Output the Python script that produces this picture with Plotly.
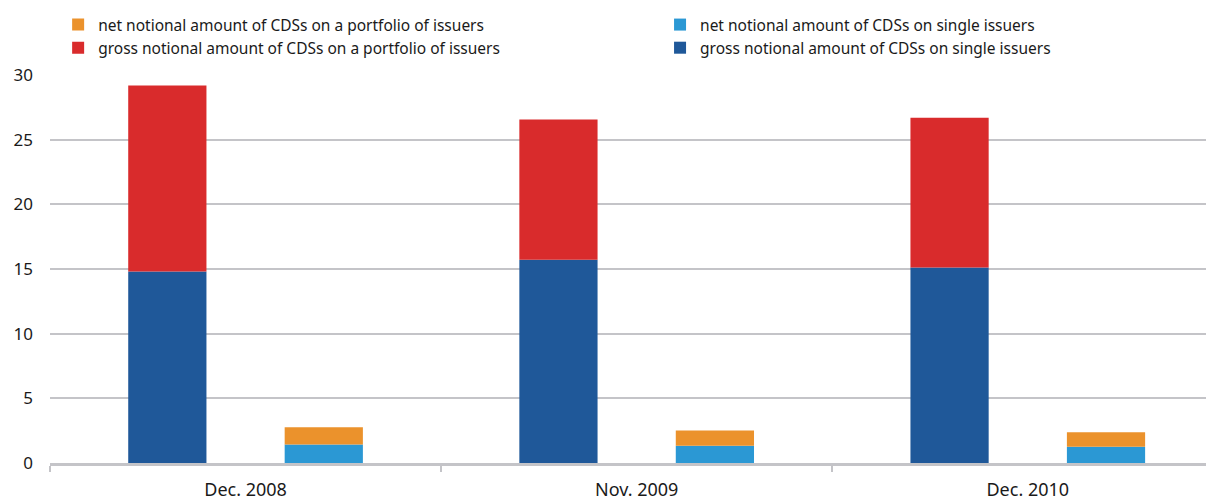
import plotly.graph_objects as go

categories = ["Dec. 2008", "Nov. 2009", "Dec. 2010"]
gross_single = [14.8, 15.71, 15.11]
gross_portfolio = [14.39, 10.85, 11.58]
net_single = [1.44, 1.34, 1.26]
net_portfolio = [1.32, 1.18, 1.11]
y_ticks = [0, 5, 10, 15, 20, 25, 30]

C_DARK = "#1f5899"
C_RED = "#d92b2c"
C_LIGHT = "#2b98d4"
C_ORANGE = "#eb922c"
GRID = "#c4c4c8"

fig = go.Figure()
fig.add_trace(go.Bar(x=categories, y=gross_single, name="gross notional amount of CDSs on single issuers",
                     marker=dict(color=C_DARK, line=dict(width=0)), offsetgroup="gross", legend="legend4"))
fig.add_trace(go.Bar(x=categories, y=gross_portfolio, base=gross_single,
                     name="gross notional amount of CDSs on a portfolio of issuers",
                     marker=dict(color=C_RED, line=dict(width=0)), offsetgroup="gross", legend="legend3"))
fig.add_trace(go.Bar(x=categories, y=net_single, name="net notional amount of CDSs on single issuers",
                     marker=dict(color=C_LIGHT, line=dict(width=0)), offsetgroup="net", legend="legend2"))
fig.add_trace(go.Bar(x=categories, y=net_portfolio, base=net_single,
                     name="net notional amount of CDSs on a portfolio of issuers",
                     marker=dict(color=C_ORANGE, line=dict(width=0)), offsetgroup="net", legend="legend"))

def leg(x, y):
    return dict(orientation="v", x=x, xref="paper", xanchor="left", y=y, yref="container",
                yanchor="top", itemwidth=30, font=dict(size=15.5, color="#1a1a1a"),
                bgcolor="rgba(0,0,0,0)", borderwidth=0)

fig.update_layout(
    width=1206, height=492,
    margin=dict(l=42, r=2, t=67, b=37, autoexpand=False),
    paper_bgcolor="white", plot_bgcolor="white",
    barmode="group", bargap=0.2, bargroupgap=0.5,
    font=dict(family="Noto Sans, sans-serif", size=15, color="#1a1a1a"),
    showlegend=True,
    legend=leg(0.007, 1.014),
    legend2=leg(0.525, 1.014),
    legend3=leg(0.007, 0.953),
    legend4=leg(0.525, 0.953),
    xaxis=dict(type="category", range=[-0.5, 2.471], tickson="boundaries",
               ticks="outside", ticklen=6, tickwidth=2, tickcolor=GRID,
               showline=True, linecolor=GRID, linewidth=3, showgrid=False,
               tickfont=dict(size=18), ticklabelstandoff=8),
    yaxis=dict(range=[0, 30], tickvals=y_ticks, showgrid=True, gridcolor=GRID, gridwidth=2,
               zeroline=False, showline=False, ticks="", tickfont=dict(size=17),
               ticklabelstandoff=16),
)

fig.write_html("out.html")
